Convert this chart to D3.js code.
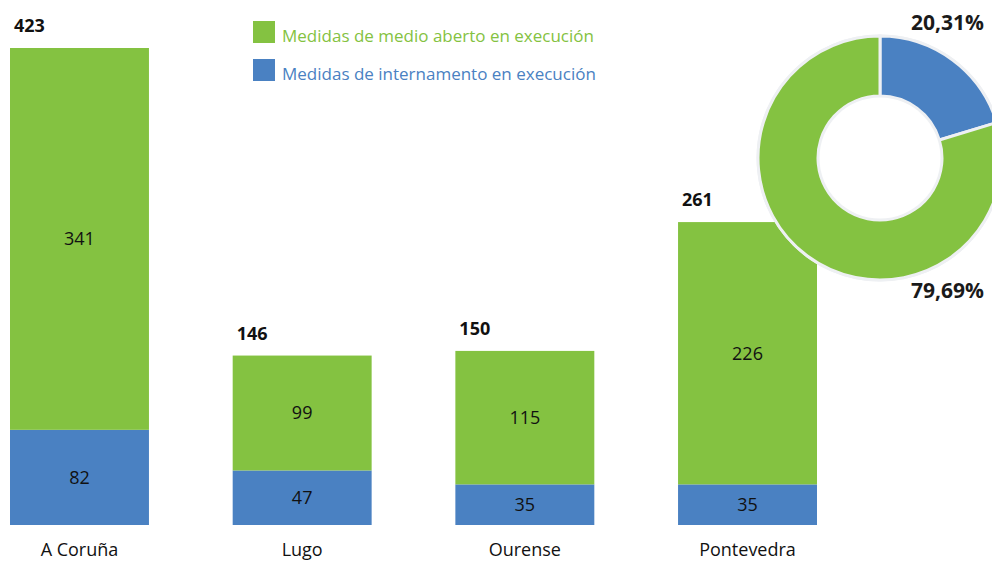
<!DOCTYPE html>
<html>
<head>
<meta charset="utf-8">
<script src="https://cdn.jsdelivr.net/npm/d3@7"></script>
<style>
  body { margin: 0; background: #fff; }
  svg { display: block; font-family: "Open Sans", "Noto Sans", sans-serif; }
</style>
</head>
<body>
<div class="chart"></div>
<script>
var width = 992, height = 562;

// data
var provinces = ["A Coruña", "Lugo", "Ourense", "Pontevedra"];
var internamento = [82, 47, 35, 35];
var medioAberto = [341, 99, 115, 226];
var totals = [423, 146, 150, 261];
var seriesNames = ["Medidas de medio aberto en execución", "Medidas de internamento en execución"];
var donutValues = [20.31, 79.69];
var donutLabels = ["20,31%", "79,69%"];

var green = "#84c241", blue = "#4a81c2";

var svg = d3.select(".chart").append("svg")
    .attr("width", width)
    .attr("height", height);

var x = d3.scaleBand()
    .domain(provinces)
    .range([10, 817])
    .paddingInner(0.376)
    .paddingOuter(0);

// the tallest bar is cut off at the top in the original
var y = d3.scaleLinear()
    .domain([0, 411])
    .range([525, 48])
    .clamp(true);

var rows = provinces.map(function(p, i) {
  return { name: p, internamento: internamento[i], aberto: medioAberto[i], total: totals[i] };
});

var stack = d3.stack().keys(["internamento", "aberto"]);
var layers = stack(rows);
var colors = { internamento: blue, aberto: green };

var g = svg.append("g");

layers.forEach(function(layer) {
  var lg = g.append("g").attr("fill", colors[layer.key]);
  lg.selectAll("rect")
    .data(layer)
    .enter().append("rect")
    .attr("x", function(d) { return x(d.data.name); })
    .attr("width", x.bandwidth())
    .attr("y", function(d) { return y(d[1]); })
    .attr("height", function(d) { return y(d[0]) - y(d[1]); });

  g.append("g").selectAll("text")
    .data(layer)
    .enter().append("text")
    .attr("x", function(d) { return x(d.data.name) + x.bandwidth() / 2; })
    .attr("y", function(d) { return (y(d[0]) + y(d[1])) / 2; })
    .attr("dy", "0.35em")
    .attr("text-anchor", "middle")
    .style("font-size", "18px")
    .style("fill", "#111")
    .text(function(d) { return d.data[layer.key]; });
});

// totals above bars
g.selectAll(".total")
  .data(rows)
  .enter().append("text")
  .attr("class", "total")
  .attr("x", function(d) { return x(d.name) + 4; })
  .attr("y", function(d) { return y(d.total) - 16; })
  .style("font-size", "18px")
  .style("font-weight", "bold")
  .style("fill", "#111")
  .text(function(d) { return d.total; });

// category labels
g.selectAll(".cat")
  .data(provinces)
  .enter().append("text")
  .attr("class", "cat")
  .attr("x", function(d) { return x(d) + x.bandwidth() / 2; })
  .attr("y", 556)
  .attr("text-anchor", "middle")
  .style("font-size", "18px")
  .style("fill", "#111")
  .text(function(d) { return d; });

// legend
var legend = svg.append("g").attr("transform", "translate(253,21)");
[green, blue].forEach(function(c, i) {
  legend.append("rect")
    .attr("x", 0).attr("y", i * 38)
    .attr("width", 22).attr("height", 22)
    .attr("fill", c);
  legend.append("text")
    .attr("x", 29).attr("y", i * 38 + 21)
    .style("font-size", "17px")
    .style("fill", c)
    .text(seriesNames[i]);
});

// donut
var pie = d3.pie().sort(null).value(function(d) { return d; });
var arc = d3.arc().innerRadius(62).outerRadius(122);
var donut = svg.append("g").attr("transform", "translate(880,158)");
donut.append("circle")
  .attr("r", 123.5)
  .attr("fill", "#eef0f3");
donut.selectAll("path")
  .data(pie(donutValues))
  .enter().append("path")
  .attr("d", arc)
  .attr("fill", function(d, i) { return i === 0 ? blue : green; })
  .attr("stroke", "#eef0f3")
  .attr("stroke-width", 3);
donut.append("circle")
  .attr("r", 60.5)
  .attr("fill", "#fff");

svg.append("g").selectAll("text")
  .data(donutLabels)
  .enter().append("text")
  .attr("x", 984)
  .attr("y", function(d, i) { return i === 0 ? 30 : 298; })
  .attr("text-anchor", "end")
  .style("font-size", "21px")
  .style("font-weight", "bold")
  .style("fill", "#1a1a1a")
  .text(function(d) { return d; });
</script>
</body>
</html>
